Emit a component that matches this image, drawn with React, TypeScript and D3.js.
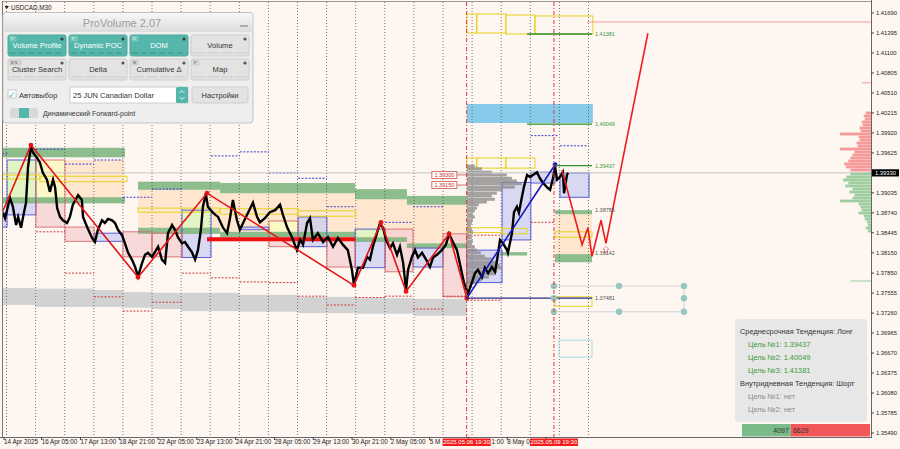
import { useEffect, useRef } from "react";
import * as d3 from "d3";

type Box = [number, number, number, number]; // day0, day1, price top, price bottom
type Seg = [number, number, number]; // day0, day1, price

const W = 900;
const H = 449;
const FONT = "'Liberation Sans', Arial, sans-serif";

// right price scale as printed by the terminal
const priceTicks = [1.4169, 1.41395, 1.411, 1.40805, 1.4051, 1.40215, 1.3992, 1.39625, 1.3933, 1.39035, 1.3874,
  1.38445, 1.3815, 1.3785, 1.37555, 1.3726, 1.36965, 1.3667, 1.36375, 1.3608, 1.35785, 1.3549];
const lastPrice = 1.3933;

// time scale: trading days since Mon 14 Apr 00:00
const timeLabels = ["14 Apr 2025", "16 Apr 05:00", "17 Apr 13:00", "18 Apr 21:00", "22 Apr 05:00", "23 Apr 13:00",
  "24 Apr 21:00", "28 Apr 05:00", "29 Apr 13:00", "30 Apr 21:00", "2 May 05:00", "5 May 13:00", "6 May 21:00",
  "8 May 05:00", "9 May 13:00"];
const timeLabelDays = [0.88, 2.208, 3.542, 4.875, 6.208, 7.542, 8.875, 10.208, 11.542, 12.875, 14.208, 15.542,
  16.875, 18.208, 19.542];
const eventDays = [16.8125, 19.8125];
const eventLabels = ["2025.05.06 19:30", "2025.05.09 19:30"];

// USDCAD M30 price path (sampled)
const barDays = [0.88, 0.95, 1.12, 1.22, 1.33, 1.4, 1.5, 1.57, 1.67, 1.74, 1.84, 1.91, 2.05, 2.15, 2.25, 2.39, 2.49,
  2.6, 2.67, 2.74, 2.84, 2.94, 3.08, 3.18, 3.28, 3.46, 3.59, 3.63, 3.77, 3.94, 4.04, 4.14, 4.28, 4.38, 4.49, 4.63,
  4.73, 4.83, 4.97, 5.07, 5.18, 5.31, 5.42, 5.52, 5.66, 5.76, 5.86, 6.0, 6.1, 6.21, 6.34, 6.45, 6.55, 6.69, 6.79,
  6.89, 7.03, 7.13, 7.24, 7.37, 7.48, 7.58, 7.68, 7.75, 7.85, 7.92, 8.1, 8.27, 8.44, 8.58, 8.68, 8.78, 8.92, 9.02,
  9.13, 9.3, 9.47, 9.61, 9.71, 9.88, 10.05, 10.23, 10.4, 10.5, 10.64, 10.81, 10.98, 11.09, 11.19, 11.33, 11.43,
  11.53, 11.7, 11.88, 12.05, 12.22, 12.39, 12.56, 12.73, 12.87, 12.94, 13.08, 13.25, 13.39, 13.49, 13.59, 13.73,
  13.83, 13.94, 14.04, 14.18, 14.28, 14.42, 14.52, 14.63, 14.73, 14.8, 14.93, 15.04, 15.14, 15.28, 15.42, 15.55,
  15.66, 15.79, 15.96, 16.1, 16.21, 16.34, 16.48, 16.55, 16.65, 16.72, 16.86, 17.0, 17.1, 17.2, 17.34, 17.44, 17.55,
  17.68, 17.79, 17.86, 17.96, 18.06, 18.2, 18.23, 18.37, 18.44, 18.54, 18.61, 18.71, 18.78, 18.89, 18.99, 19.09,
  19.23, 19.33, 19.44, 19.57, 19.68, 19.78, 19.85, 19.92, 20.02, 20.12, 20.16, 20.26, 20.3];
const barPrices = [1.3874, 1.3866, 1.3896, 1.3883, 1.3856, 1.3868, 1.3852, 1.3868, 1.3889, 1.3942, 1.3972, 1.3963,
  1.3955, 1.3948, 1.3933, 1.3923, 1.3905, 1.3923, 1.3912, 1.3881, 1.3868, 1.3863, 1.3859, 1.3868, 1.3886, 1.39,
  1.3893, 1.3868, 1.3853, 1.3837, 1.3831, 1.3849, 1.3863, 1.3859, 1.3865, 1.3863, 1.3859, 1.3849, 1.3841, 1.3829,
  1.3815, 1.3805, 1.3794, 1.378, 1.38, 1.3812, 1.3815, 1.3809, 1.3816, 1.3824, 1.3805, 1.38, 1.3844, 1.3856, 1.3849,
  1.3838, 1.3829, 1.3831, 1.3824, 1.3816, 1.3805, 1.3819, 1.3849, 1.3883, 1.3902, 1.3883, 1.3874, 1.3868, 1.3852,
  1.3844, 1.3866, 1.3893, 1.3863, 1.3849, 1.3859, 1.3874, 1.3889, 1.3868, 1.386, 1.3866, 1.3875, 1.3878, 1.3886,
  1.3871, 1.3853, 1.3838, 1.3819, 1.3834, 1.3827, 1.3859, 1.3866, 1.3834, 1.3844, 1.3831, 1.3838, 1.3824, 1.3837,
  1.3827, 1.3819, 1.379, 1.3768, 1.3793, 1.3793, 1.3809, 1.3805, 1.3824, 1.3844, 1.3858, 1.3852, 1.3834, 1.3822,
  1.3829, 1.3812, 1.3824, 1.38, 1.376, 1.379, 1.3809, 1.3819, 1.3808, 1.3815, 1.3805, 1.3794, 1.3808, 1.3812,
  1.3819, 1.3827, 1.3843, 1.3831, 1.3819, 1.3805, 1.3785, 1.3771, 1.3755, 1.3772, 1.3785, 1.379, 1.3779, 1.3793,
  1.3785, 1.3794, 1.3787, 1.3805, 1.3834, 1.3829, 1.3819, 1.3815, 1.3844, 1.3875, 1.3883, 1.3874, 1.3897, 1.3912,
  1.393, 1.3927, 1.393, 1.3934, 1.3925, 1.3918, 1.3912, 1.3908, 1.3925, 1.3942, 1.3923, 1.3927, 1.3934, 1.3903,
  1.393, 1.3933];

// zigzag swings, the current wave and the forecast path
const zigDays = [0.85, 1.84, 5.52, 7.89, 12.94, 13.87, 14.73, 16.21, 16.82];
const zigPrices = [1.3874, 1.3974, 1.3779, 1.3903, 1.3767, 1.386, 1.3758, 1.3843, 1.37481];
const waveDays = [16.82, 19.85];
const wavePrices = [1.37481, 1.3945];
const forecastDays = [20.09, 20.78, 20.98, 21.12, 21.43, 21.6, 23.04];
const forecastPrices = [1.3937, 1.3827, 1.3852, 1.381, 1.3863, 1.3829, 1.4139];

// zones
const grayBands: Box[] = [[0.7, 2, 1.3763, 1.3738], [2, 4, 1.3762, 1.3735], [4, 5, 1.376, 1.3735],
  [5, 6, 1.3757, 1.3734], [6, 7, 1.3756, 1.3732], [7, 9, 1.3756, 1.3729], [9, 11, 1.3753, 1.3728],
  [11, 13, 1.375, 1.3726], [13, 15, 1.3748, 1.3725], [15, 16.82, 1.3747, 1.3722]];
const greenBands: Box[] = [[0.7, 5.07, 1.397, 1.3956], [0.7, 5.07, 1.3897, 1.3888], [5.52, 8.34, 1.392, 1.3908],
  [8.34, 12.98, 1.3918, 1.3903], [12.98, 14.76, 1.3909, 1.3894], [14.76, 16.82, 1.3899, 1.3886],
  [5.52, 8.34, 1.3852, 1.3843], [8.34, 12.98, 1.3846, 1.3838], [12.98, 14.76, 1.3838, 1.3831],
  [14.76, 16.82, 1.3829, 1.3822], [17.96, 18.89, 1.3816, 1.3811], [19.85, 21.12, 1.3878, 1.3872],
  [19.85, 21.12, 1.3813, 1.3801]];
const peachZones: Box[] = [[3.01, 5.07, 1.3952, 1.3893], [5.52, 8.34, 1.3908, 1.3852], [8.34, 12.98, 1.3903, 1.3846],
  [12.98, 14.76, 1.3894, 1.3838], [14.76, 16.82, 1.3886, 1.3829], [19.85, 21.12, 1.3872, 1.3813]];
const lemonZones: Box[] = [[2.01, 3.01, 1.3952, 1.3892], [10.02, 11.02, 1.3862, 1.3841]];
const limeZones: Box[] = [[1.02, 2.01, 1.3952, 1.389], [7.03, 8.03, 1.3878, 1.3844], [12.98, 14.01, 1.385, 1.3835]];
const blueBoxes: Box[] = [[0.85, 1.02, 1.3874, 1.3853], [1.02, 2.01, 1.3952, 1.3871], [4.01, 5, 1.3844, 1.3832],
  [7.03, 8.03, 1.3878, 1.3808], [9.02, 10.02, 1.3853, 1.3849], [11.02, 12.01, 1.3868, 1.3824],
  [12.98, 14.01, 1.385, 1.3793], [14.97, 16, 1.3822, 1.3794], [16.82, 18.03, 1.3819, 1.3771],
  [18.03, 19.02, 1.3919, 1.3834], [19.02, 19.85, 1.3934, 1.3918], [20.02, 21.02, 1.3933, 1.3897]];
const redBoxes: Box[] = [[2.01, 3.01, 1.3952, 1.3853], [3.01, 4.01, 1.3853, 1.3832], [5, 6, 1.3846, 1.3809],
  [6, 7.03, 1.3844, 1.3809], [10.02, 11.02, 1.3862, 1.3824], [12.01, 12.98, 1.3834, 1.3794],
  [14.01, 14.97, 1.385, 1.3787], [16, 16.82, 1.3843, 1.375]];
const yellowBoxes: Box[] = [[0.88, 2.15, 1.393, 1.3924], [2.15, 5.14, 1.3928, 1.392], [5.52, 8.34, 1.3881, 1.3875],
  [8.34, 11.02, 1.388, 1.3872], [11.02, 12.98, 1.3877, 1.3869], [16.82, 17.16, 1.3955, 1.394],
  [17.16, 18.16, 1.3955, 1.394], [18.16, 19.16, 1.3955, 1.394], [16.82, 18.03, 1.3852, 1.3845],
  [18.03, 18.89, 1.3851, 1.3843], [19.85, 21.12, 1.3846, 1.3838], [19.85, 21.12, 1.375, 1.3736],
  [16.82, 17.16, 1.41675, 1.41395], [17.16, 18.16, 1.41675, 1.41395], [18.16, 19.16, 1.4166, 1.4138],
  [19.16, 21.15, 1.41646, 1.4138]];
const skyZone: Box = [16.82, 21.15, 1.40347, 1.40066];
const cyanBox: Box = [19.99, 21.12, 1.3686, 1.3661];
const redBar: Box = [7.89, 12.98, 1.3838, 1.3832];
const blueDashes: Seg[] = [[0.85, 1.02, 1.3961], [2.01, 3.01, 1.3968], [3.01, 4.01, 1.3946], [4.01, 5, 1.3952],
  [5, 6, 1.3897], [6, 7.03, 1.3909], [8.03, 9.02, 1.3958], [9.02, 10.02, 1.3964], [10.02, 11.02, 1.3933],
  [11.02, 12.01, 1.3925], [12.01, 12.98, 1.3883], [14.01, 14.97, 1.386], [14.97, 16, 1.3883],
  [19.02, 19.95, 1.3988], [20.02, 21, 1.3973]];
const redDashes: Seg[] = [[2.01, 3.01, 1.3846], [3.01, 4.01, 1.3785], [4.01, 5, 1.375], [5, 6, 1.3729],
  [6, 7.03, 1.3742], [7.03, 8.03, 1.3785], [8.03, 9.02, 1.3778], [9.02, 10.02, 1.3772], [10.02, 11.02, 1.3771],
  [11.02, 12.01, 1.3751], [12.01, 12.98, 1.3738], [12.98, 14.01, 1.3749], [14.01, 14.97, 1.3751],
  [14.97, 16, 1.3732], [16, 16.82, 1.3751], [16.82, 18.03, 1.3745], [16.82, 18.03, 1.3841], [19.02, 19.85, 1.386]];

// volume profile of the current wave
const vpPrices = [1.3943, 1.3939, 1.3934, 1.393, 1.3925, 1.3921, 1.3917, 1.3912, 1.3908, 1.3903, 1.3899, 1.3894,
  1.389, 1.3886, 1.3881, 1.3877, 1.3872, 1.3868, 1.3863, 1.3859, 1.3855, 1.385, 1.3846, 1.3841, 1.3837, 1.3832,
  1.3828, 1.3824, 1.3819, 1.3815, 1.381, 1.3806, 1.3801, 1.3797, 1.3793, 1.3788, 1.3784, 1.3779, 1.3775, 1.3771,
  1.3766];
const vpVolumes = [8, 15, 25, 40, 45, 50, 55, 48, 35, 30, 25, 28, 20, 12, 10, 8, 6, 8, 6, 5, 4, 5, 6, 4, 5, 6, 5, 8,
  10, 14, 18, 25, 30, 33, 35, 30, 28, 22, 15, 10, 5];

// order book profile on the right edge
const askPrices = [1.40214, 1.4017, 1.40125, 1.40081, 1.40037, 1.39992, 1.39948, 1.39904, 1.3986, 1.39815, 1.39771,
  1.39727, 1.39682, 1.39638, 1.39594, 1.3955, 1.39505, 1.39461, 1.39417, 1.39372];
const askVolumes = [5, 7, 6, 9, 8, 11, 10, 30, 12, 11, 14, 13, 30, 16, 18, 20, 22, 26, 24, 20];
const bidPrices = [1.39313, 1.39269, 1.39225, 1.3918, 1.39136, 1.39092, 1.39048, 1.39003, 1.38959, 1.38915, 1.38871,
  1.38826, 1.38782, 1.38738, 1.38693, 1.38649, 1.38605, 1.38561, 1.38516, 1.38472];
const bidVolumes = [20, 24, 27, 22, 25, 18, 21, 16, 18, 30, 12, 10, 9, 12, 7, 6, 4, 3, 5, 3];
const bookLevelPrices = [1.41557, 1.4066, 1.37734];
const bookLevelVolumes = [275, 9, 20];

// targets and levels
const targetPrices = [1.39437, 1.40049, 1.41381];
const targetStartDays = [19.85, 18.89, 18.89];
const levelPrices = [1.38786, 1.38142, 1.37481];
const markPrices = [1.393, 1.3915];
const dotDays = [19.81, 22.05, 24.28, 19.81, 24.28, 19.81, 22.05, 24.28];
const dotPrices = [1.3766, 1.3766, 1.3766, 1.3748, 1.3748, 1.3728, 1.3728, 1.3728];
const buyVolume = 4097;
const sellVolume = 6629;

// ProVolume panel
const buttonLabels = ["Volume Profile", "Dynamic POC", "DOM", "Volume", "Cluster Search", "Delta", "Cumulative Δ", "Map"];
const buttonTags = ["V", "P", "D", "", "B N", "", "M", "F"];
const buttonActive = [true, true, true, false, false, false, false, false];

const fmt = d3.format(".5f");

export default function App() {
  const svgRef = useRef<SVGSVGElement | null>(null);

  useEffect(() => {
    if (!svgRef.current) return;
    const svg = d3.select(svgRef.current);
    svg.selectAll("*").remove();

    const left = 3, right = 871, top = 2, bottom = 437;
    const x = d3.scaleLinear().domain([0, 21]).range([-22.6, 588.5]);
    const y = d3.scaleLinear().domain([1.3549, 1.4169]).range([433, 13]);

    svg.append("rect").attr("width", W).attr("height", H).attr("fill", "#fdf6f1");
    const defs = svg.append("defs");
    defs.append("clipPath").attr("id", "plot").append("rect")
      .attr("x", left).attr("y", top).attr("width", right - left).attr("height", bottom - top);
    const plot = svg.append("g").attr("clip-path", "url(#plot)");

    const boxes = (arr: Box[]) =>
      plot.append("g").selectAll("rect").data(arr).join("rect")
        .attr("x", d => x(d[0])).attr("y", d => y(d[2]))
        .attr("width", d => x(d[1]) - x(d[0])).attr("height", d => Math.max(1, y(d[3]) - y(d[2])));
    const segs = (arr: Seg[], color: string) =>
      plot.append("g").selectAll("line").data(arr).join("line")
        .attr("x1", d => x(d[0])).attr("x2", d => x(d[1]))
        .attr("y1", d => y(d[2])).attr("y2", d => y(d[2]))
        .attr("stroke", color).attr("stroke-width", 1).attr("stroke-dasharray", "2 1.5");

    // background zones
    boxes(peachZones).attr("fill", "#fde2c2").attr("opacity", 0.75);
    boxes(grayBands).attr("fill", "#d2d2d2");
    boxes(blueBoxes).attr("fill", "#c8ccf4").attr("opacity", 0.7);
    boxes(redBoxes).attr("fill", "#f6cfd0").attr("opacity", 0.75);
    boxes(limeZones).attr("fill", "#e3f4c4");
    boxes(lemonZones).attr("fill", "#fbf7c6");
    boxes(greenBands).attr("fill", "#79b27b").attr("opacity", 0.85);
    boxes([skyZone]).attr("fill", "#86cbe9");

    // daily grid
    plot.append("g").selectAll("line").data(d3.range(1, 22)).join("line")
      .attr("x1", d => x(d)).attr("x2", d => x(d)).attr("y1", top).attr("y2", bottom)
      .attr("stroke", "#555").attr("stroke-width", 0.8).attr("stroke-dasharray", "1 2");

    boxes(blueBoxes).attr("fill", "none").attr("stroke", "#4b50d2").attr("stroke-width", 0.9);
    boxes(redBoxes).attr("fill", "none").attr("stroke", "#d86a6a").attr("stroke-width", 0.9);
    boxes(yellowBoxes).attr("fill", "none").attr("stroke", "#e8d21e").attr("stroke-width", 1);
    boxes([cyanBox]).attr("fill", "none").attr("stroke", "#a9dbe9").attr("stroke-width", 1);
    segs(blueDashes, "#3b3bd0");
    segs(redDashes, "#d03a3a");
    boxes([redBar]).attr("fill", "#f01010");

    // wave volume profile
    const vpW = d3.scaleLinear().domain([0, 55]).range([0, 55]);
    plot.append("g").selectAll("rect").data(vpPrices).join("rect")
      .attr("x", x(waveDays[0])).attr("y", d => y(d) - 1.5)
      .attr("width", (_d, i) => vpW(vpVolumes[i])).attr("height", 3)
      .attr("fill", "#8d8d8d").attr("opacity", 0.8);

    // last price line
    plot.append("line").attr("x1", left).attr("x2", right).attr("y1", y(lastPrice)).attr("y2", y(lastPrice))
      .attr("stroke", "#c4c4c4").attr("stroke-width", 1);

    // price
    const line = d3.line<number>().x((_d, i) => x(barDays[i])).y(d => y(d));
    plot.append("path").attr("d", line(barPrices)).attr("fill", "none")
      .attr("stroke", "#000").attr("stroke-width", 2.4).attr("stroke-linejoin", "miter");

    // right book profile
    const bookW = d3.scaleLinear().domain([0, 30]).range([0, 31]);
    plot.append("g").selectAll("rect").data(askPrices).join("rect")
      .attr("x", (_d, i) => right - bookW(askVolumes[i])).attr("y", d => y(d) - 1.4)
      .attr("width", (_d, i) => bookW(askVolumes[i])).attr("height", 2.8).attr("fill", "#f59a98");
    plot.append("g").selectAll("rect").data(bidPrices).join("rect")
      .attr("x", (_d, i) => right - bookW(bidVolumes[i])).attr("y", d => y(d) - 1.4)
      .attr("width", (_d, i) => bookW(bidVolumes[i])).attr("height", 2.8).attr("fill", "#9fcea0");
    plot.append("g").selectAll("line").data(bookLevelPrices).join("line")
      .attr("x1", (_d, i) => right - bookW(bookLevelVolumes[i])).attr("x2", right)
      .attr("y1", d => y(d)).attr("y2", d => y(d))
      .attr("stroke", d => (d > lastPrice ? "#f2a0a0" : "#9fcea0")).attr("stroke-width", 1);

    // zigzag, wave, forecast
    const zig = d3.line<number>().x((_d, i) => x(zigDays[i])).y(d => y(d));
    plot.append("path").attr("d", zig(zigPrices)).attr("fill", "none").attr("stroke", "#e31414").attr("stroke-width", 1.6);
    plot.append("g").selectAll("circle").data(zigPrices.slice(1)).join("circle")
      .attr("cx", (_d, i) => x(zigDays[i + 1])).attr("cy", d => y(d)).attr("r", 2.4).attr("fill", "#e31414");
    const wave = d3.line<number>().x((_d, i) => x(waveDays[i])).y(d => y(d));
    plot.append("path").attr("d", wave(wavePrices)).attr("fill", "none").attr("stroke", "#1515c8").attr("stroke-width", 1.6);
    plot.append("circle").attr("cx", x(waveDays[1])).attr("cy", y(wavePrices[1])).attr("r", 2.4).attr("fill", "#1515c8");
    const fc = d3.line<number>().x((_d, i) => x(forecastDays[i])).y(d => y(d));
    plot.append("path").attr("d", fc(forecastPrices)).attr("fill", "none").attr("stroke", "#ec1c1c").attr("stroke-width", 1.6);
    // small hollow up-arrow under the last forecast low
    const ax = x(forecastDays[5]), ay = y(forecastPrices[5]) + 3;
    plot.append("path")
      .attr("d", `M${ax},${ay} l3,3 h-1.6 v3.5 h-2.8 v-3.5 h-1.6 Z`)
      .attr("fill", "#fff").attr("stroke", "#ee7070").attr("stroke-width", 0.8);

    // targets and levels
    const xEnd = x(21.12);
    plot.append("line").attr("x1", x(waveDays[0])).attr("x2", xEnd)
      .attr("y1", y(levelPrices[2])).attr("y2", y(levelPrices[2])).attr("stroke", "#2b2b8c").attr("stroke-width", 1.3);
    plot.append("g").selectAll("line").data(targetPrices).join("line")
      .attr("x1", (_d, i) => x(targetStartDays[i])).attr("x2", xEnd)
      .attr("y1", d => y(d)).attr("y2", d => y(d)).attr("stroke", "#2f8f2f").attr("stroke-width", 1.4);
    plot.append("g").selectAll("text").data(targetPrices).join("text")
      .attr("x", xEnd + 3).attr("y", d => y(d) + 2).attr("font-family", FONT).attr("font-size", 5.5)
      .attr("fill", "#3a9a3a").text(d => fmt(d));
    plot.append("g").selectAll("text").data(levelPrices).join("text")
      .attr("x", xEnd + 3).attr("y", d => y(d) + 2).attr("font-family", FONT).attr("font-size", 5.5)
      .attr("fill", "#555").text(d => fmt(d));

    // teal handles
    plot.append("path")
      .attr("d", `M${x(dotDays[0])},${y(dotPrices[0])}H${x(dotDays[2])}V${y(dotPrices[7])}H${x(dotDays[5])}`)
      .attr("fill", "none").attr("stroke", "#d4d4d4").attr("stroke-width", 1);
    plot.append("g").selectAll("circle").data(dotPrices).join("circle")
      .attr("cx", (_d, i) => x(dotDays[i])).attr("cy", d => y(d)).attr("r", 3.2).attr("fill", "#96c8c2");

    // event lines
    plot.append("g").selectAll("line").data(eventDays).join("line")
      .attr("x1", d => x(d)).attr("x2", d => x(d)).attr("y1", top).attr("y2", bottom)
      .attr("stroke", "#e03232").attr("stroke-width", 1).attr("stroke-dasharray", "4 2 1 2");

    // price marks
    const marks = plot.append("g");
    markPrices.forEach(p => {
      const xr = x(waveDays[0]) - 10;
      marks.append("line").attr("x1", xr).attr("x2", x(waveDays[0])).attr("y1", y(p)).attr("y2", y(p))
        .attr("stroke", "#d05050").attr("stroke-width", 0.8);
      marks.append("rect").attr("x", xr - 25).attr("y", y(p) - 3.5).attr("width", 25).attr("height", 7)
        .attr("fill", "#fff").attr("stroke", "#d05050").attr("stroke-width", 0.8);
      marks.append("text").attr("x", xr - 12.5).attr("y", y(p) + 2).attr("text-anchor", "middle")
        .attr("font-family", FONT).attr("font-size", 5.5).attr("fill", "#c03030").text(fmt(p));
    });

    // frame and axes
    svg.append("line").attr("x1", left).attr("x2", right).attr("y1", 1.5).attr("y2", 1.5).attr("stroke", "#999");
    svg.append("line").attr("x1", 2.5).attr("x2", 2.5).attr("y1", 1).attr("y2", bottom).attr("stroke", "#777");
    svg.append("line").attr("x1", right + 0.5).attr("x2", right + 0.5).attr("y1", 0).attr("y2", bottom + 1).attr("stroke", "#666");
    svg.append("line").attr("x1", 0).attr("x2", right + 1).attr("y1", bottom + 0.5).attr("y2", bottom + 0.5).attr("stroke", "#666");

    const yAx = svg.append("g").attr("font-family", FONT).attr("font-size", 5.8).attr("fill", "#222");
    priceTicks.forEach(p => {
      yAx.append("line").attr("x1", right).attr("x2", right + 3).attr("y1", y(p)).attr("y2", y(p)).attr("stroke", "#444");
      if (Math.abs(p - lastPrice) > 0.0004) yAx.append("text").attr("x", right + 5).attr("y", y(p) + 2).text(fmt(p));
    });
    yAx.append("rect").attr("x", right + 1).attr("y", y(lastPrice) - 3.6).attr("width", 27).attr("height", 7.2).attr("fill", "#000");
    yAx.append("text").attr("x", right + 4).attr("y", y(lastPrice) + 2).attr("fill", "#fff").text(fmt(lastPrice));

    // time labels; the red event labels hide whatever lies under them
    const xAx = svg.append("g").attr("font-family", FONT).attr("font-size", 6.3).attr("fill", "#222");
    const covers = eventDays.map(d => [x(d) - 24, x(d) + 24]);
    timeLabels.forEach((t, i) => {
      const xx = Math.max(4, x(timeLabelDays[i]));
      xAx.append("line").attr("x1", xx).attr("x2", xx).attr("y1", bottom).attr("y2", bottom + 3).attr("stroke", "#444");
      const txt = xAx.append("text").attr("x", xx).attr("y", bottom + 7).text(t);
      const node = txt.node() as SVGTextElement;
      let s = t;
      let x0 = xx;
      let x1 = xx + node.getComputedTextLength();
      for (const [a, b] of covers) {
        if (x0 >= a && x1 <= b) { txt.remove(); return; }
        if (x0 < a && x1 > a) {
          while (s.length && x0 + node.getComputedTextLength() > a + 0.5) { s = s.slice(0, -1); txt.text(s); }
          x1 = x0 + node.getComputedTextLength();
        } else if (x0 >= a && x0 < b && x1 > b) {
          while (s.length && x1 - node.getComputedTextLength() < b - 0.5) { s = s.slice(1); txt.text(s); }
          x0 = x1 - node.getComputedTextLength();
          txt.attr("x", x0 + 0.6);
        }
      }
    });
    eventDays.forEach((d, i) => {
      xAx.append("rect").attr("x", x(d) - 24).attr("y", bottom + 1.5).attr("width", 48).attr("height", 7.5).attr("fill", "#f21a1a");
      xAx.append("text").attr("x", x(d)).attr("y", bottom + 7.3).attr("text-anchor", "middle").attr("fill", "#fff")
        .attr("font-size", 6).text(eventLabels[i]);
    });

    // symbol caption
    svg.append("path").attr("d", "M4.5,6 L9,6 L6.75,9 Z").attr("fill", "#222");
    svg.append("text").attr("x", 11).attr("y", 9.5).attr("font-family", FONT).attr("font-size", 6.3).attr("fill", "#222").text("USDCAD,M30");

    // ProVolume panel
    const panel = svg.append("g").attr("font-family", FONT);
    const tg = defs.append("linearGradient").attr("id", "tg").attr("x1", 0).attr("y1", 0).attr("x2", 0).attr("y2", 1);
    tg.append("stop").attr("offset", "0%").attr("stop-color", "#f8f8f8");
    tg.append("stop").attr("offset", "100%").attr("stop-color", "#dcdcdc");
    panel.append("rect").attr("x", 3).attr("y", 12.5).attr("width", 250).attr("height", 110.5).attr("rx", 3)
      .attr("fill", "#eeeeee").attr("stroke", "#c2c2c2");
    panel.append("rect").attr("x", 3.5).attr("y", 13).attr("width", 249).attr("height", 19).attr("rx", 3).attr("fill", "url(#tg)");
    panel.append("text").attr("x", 122).attr("y", 26.5).attr("text-anchor", "middle").attr("font-size", 11)
      .attr("fill", "#9d9d9d").text("ProVolume 2.07");
    panel.append("line").attr("x1", 240).attr("x2", 248).attr("y1", 26).attr("y2", 26).attr("stroke", "#8a8a8a").attr("stroke-width", 1.2);

    const colX = [8, 69, 130, 191];
    const rowY = [35, 59];
    buttonLabels.forEach((t, i) => {
      const bx = colX[i % 4], by = rowY[Math.floor(i / 4)], bw = 58, bh = 21;
      const on = buttonActive[i];
      panel.append("rect").attr("x", bx).attr("y", by).attr("width", bw).attr("height", bh).attr("rx", 2)
        .attr("fill", on ? "#55b7ab" : "#e3e3e3").attr("stroke", on ? "#4aa79b" : "#cdcdcd");
      panel.append("text").attr("x", bx + bw / 2).attr("y", by + 13).attr("text-anchor", "middle")
        .attr("font-size", 7.6).attr("fill", on ? "#fff" : "#333").text(t);
      if (buttonTags[i]) {
        panel.append("rect").attr("x", bx + 2).attr("y", by + 1.5).attr("width", buttonTags[i].length > 1 ? 11 : 6)
          .attr("height", 4.5).attr("fill", on ? "#6cc3b8" : "#d6d6d6").attr("stroke", on ? "#9fdad2" : "#bbb").attr("stroke-width", 0.4);
        panel.append("text").attr("x", bx + 3).attr("y", by + 5.3).attr("font-size", 3.8)
          .attr("fill", on ? "#fff" : "#555").text(buttonTags[i]);
      }
      panel.append("circle").attr("cx", bx + bw - 4).attr("cy", by + 4).attr("r", 1.6).attr("fill", on ? "#3c3c3c" : "#555");
      panel.append("line").attr("x1", bx + 2).attr("x2", bx + bw - 2).attr("y1", by + bh - 3).attr("y2", by + bh - 3)
        .attr("stroke", on ? "#3d8f85" : "#c9c9c9").attr("stroke-width", 1.2).attr("stroke-dasharray", on ? "6 3" : "12 2");
    });

    panel.append("rect").attr("x", 8).attr("y", 90).attr("width", 8).attr("height", 8).attr("fill", "#fff").attr("stroke", "#aaa").attr("stroke-width", 0.6);
    panel.append("text").attr("x", 8).attr("y", 97.5).attr("font-size", 9).attr("fill", "#49b3a6").text("✓");
    panel.append("text").attr("x", 19).attr("y", 97.5).attr("font-size", 7.5).attr("fill", "#333").text("Автовыбор");
    panel.append("rect").attr("x", 70).attr("y", 87).attr("width", 118).attr("height", 16).attr("fill", "#fff").attr("stroke", "#ccc");
    panel.append("text").attr("x", 73).attr("y", 98).attr("font-size", 7.5).attr("fill", "#333").text("25 JUN Canadian Dollar");
    panel.append("rect").attr("x", 176).attr("y", 87).attr("width", 12).attr("height", 16).attr("rx", 1.5).attr("fill", "#55b7ab");
    panel.append("path").attr("d", "M179.5,93 L182,90.5 L184.5,93 M179.5,97 L182,99.5 L184.5,97")
      .attr("fill", "none").attr("stroke", "#fff").attr("stroke-width", 0.8);
    panel.append("rect").attr("x", 192).attr("y", 87).attr("width", 56).attr("height", 16).attr("rx", 2).attr("fill", "#e3e3e3").attr("stroke", "#cdcdcd");
    panel.append("text").attr("x", 220).attr("y", 98).attr("text-anchor", "middle").attr("font-size", 7.5).attr("fill", "#333").text("Настройки");
    panel.append("rect").attr("x", 10).attr("y", 108).attr("width", 28).attr("height", 10).attr("rx", 2).attr("fill", "#d9d9d9");
    panel.append("rect").attr("x", 19).attr("y", 108).attr("width", 10).attr("height", 10).attr("fill", "#55b7ab");
    panel.append("text").attr("x", 43).attr("y", 116).attr("font-size", 7).attr("fill", "#333").text("Динамический Forward-point");

    // trend box
    const info = svg.append("g").attr("font-family", FONT).attr("font-size", 7.4);
    info.append("rect").attr("x", 735).attr("y", 319).attr("width", 132).attr("height", 103).attr("rx", 4)
      .attr("fill", "#e6e6e6").attr("opacity", 0.95);
    info.append("text").attr("x", 740).attr("y", 333.5).attr("fill", "#333").text("Среднесрочная Тенденция: Лонг");
    targetPrices.forEach((p, i) => {
      info.append("text").attr("x", 748).attr("y", 346.5 + i * 13).attr("fill", "#3b9a3b").text(`Цель №${i + 1}: ${fmt(p)}`);
    });
    info.append("text").attr("x", 740).attr("y", 386).attr("fill", "#333").text("Внутридневная Тенденция: Шорт");
    [1, 2].forEach((n, i) => {
      info.append("text").attr("x", 748).attr("y", 399 + i * 13).attr("fill", "#8a8a8a").text(`Цель №${n}: нет`);
    });

    // buy / sell volume bar
    const vol = d3.scaleLinear().domain([0, buyVolume + sellVolume]).range([742, right - 1]);
    svg.append("rect").attr("x", vol(0)).attr("y", 424).attr("width", vol(buyVolume) - vol(0)).attr("height", 12.5).attr("fill", "#7bbb89");
    svg.append("rect").attr("x", vol(buyVolume)).attr("y", 424).attr("width", vol(buyVolume + sellVolume) - vol(buyVolume))
      .attr("height", 12.5).attr("fill", "#f35858");
    svg.append("text").attr("x", vol(buyVolume) - 2).attr("y", 433).attr("text-anchor", "end").attr("font-family", FONT)
      .attr("font-size", 7).attr("fill", "#333").text(buyVolume);
    svg.append("text").attr("x", vol(buyVolume) + 2).attr("y", 433).attr("font-family", FONT)
      .attr("font-size", 7).attr("fill", "#333").text(sellVolume);
  }, []);

  return (
    <svg ref={svgRef} width={W} height={H} style={{ position: "absolute", left: 0, top: 0, display: "block" }} />
  );
}
